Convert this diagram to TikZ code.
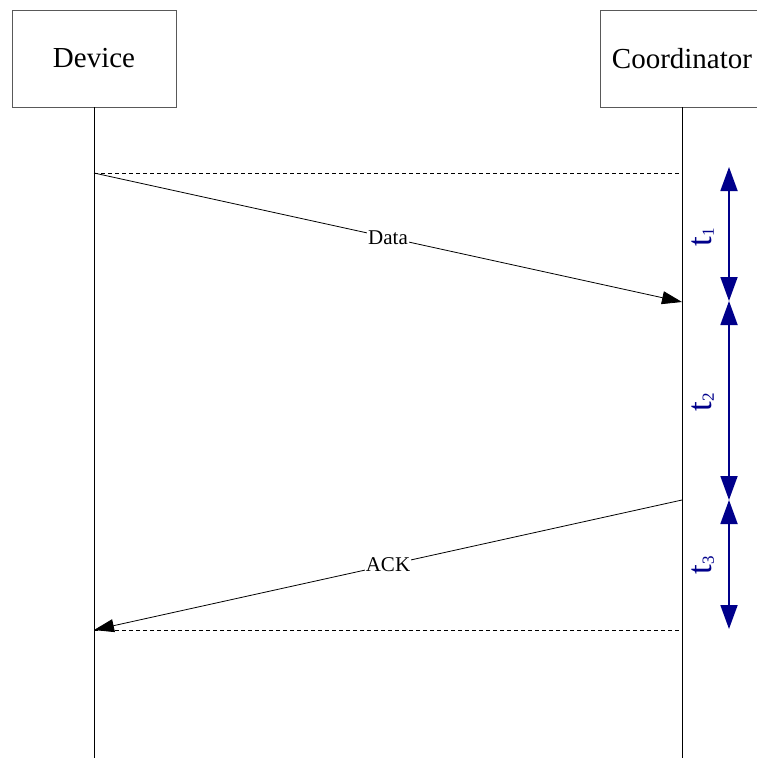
\documentclass[tikz,border=0pt]{standalone}
\usepackage{fontspec}
\setmainfont{Liberation Serif}
\usetikzlibrary{arrows.meta}
\definecolor{tcol}{RGB}{0,0,139}
\newcommand{\tlabel}[1]{t\raisebox{-2pt}{\fontsize{17}{17}\selectfont #1}}
\begin{document}
\begin{tikzpicture}[x=1pt,y=-1pt,
  actor/.style={draw=black!65, line width=0.8pt, minimum width=164pt, minimum height=97pt,
    inner sep=0pt, font=\fontsize{29}{30}\selectfont},
  life/.style={line width=0.8pt},
  guide/.style={dash pattern=on 4pt off 3pt, line width=0.7pt},
  msg/.style={line width=0.8pt, -{Triangle[length=20pt,width=13pt]}},
  msglabel/.style={fill=white, inner sep=1pt, font=\fontsize{21}{22}\selectfont},
  span/.style={draw=tcol, line width=1.8pt,
    {Triangle[length=24pt,width=17pt]}-{Triangle[length=24pt,width=17pt]}},
  spanlabel/.style={text=tcol, rotate=90, inner sep=0pt, font=\fontsize{35}{35}\selectfont}]
\useasboundingbox (0,0) rectangle (757,758);
\clip (0,0) rectangle (757,758);

% participants
\node[actor] (dev) at (94,58.5) {Device};
\node[actor] (coord) at (682,58.5) {Coordinator};

% lifeline ends
\coordinate (devEnd) at (94,758);
\coordinate (coordEnd) at (682,758);
\draw[life] (dev.south) -- (devEnd);
\draw[life] (coord.south) -- (coordEnd);

% event points on the lifelines
\coordinate (dSend) at (94,173);
\coordinate (cSend) at (682,173);
\coordinate (cRecv) at (682,302);
\coordinate (cAck) at (682,500);
\coordinate (dAck) at (94,630);
\coordinate (cEnd) at (682,630);

% reference levels
\draw[guide] (dSend) -- (cSend);
\draw[guide] (dAck) -- (cEnd);

% messages
\draw[msg] (dSend) -- node[msglabel] {Data} (cRecv);
\draw[msg] (cAck) -- node[msglabel] {ACK} (dAck);

% timing intervals
\coordinate (s0) at (729,167);
\coordinate (s1) at (729,301);
\coordinate (s2) at (729,500);
\coordinate (s3) at (729,629);
\draw[span] (s0) -- (s1);
\draw[span] (s1) -- (s2);
\draw[span] (s2) -- (s3);
\node[spanlabel] (t1) at (703,237) {\tlabel{1}};
\node[spanlabel] (t2) at (703,402) {\tlabel{2}};
\node[spanlabel] (t3) at (703,565) {\tlabel{3}};
\end{tikzpicture}
\end{document}
